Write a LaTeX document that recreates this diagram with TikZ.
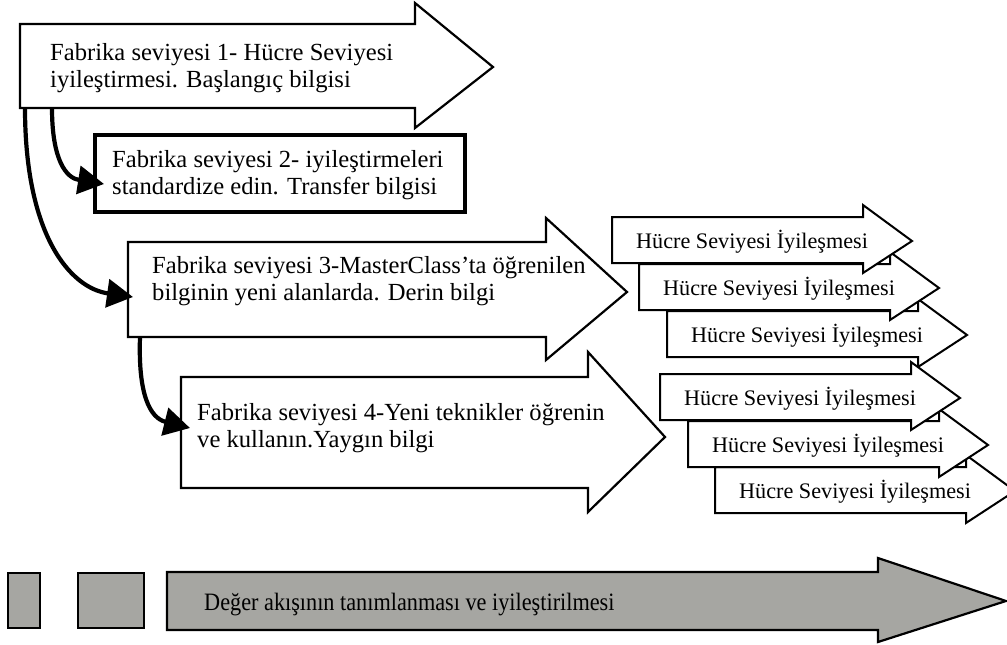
\documentclass[tikz,border=0pt]{standalone}
\usepackage{fontspec}
\usepackage{graphicx}
\setmainfont{Liberation Serif}
\usetikzlibrary{arrows.meta}
\definecolor{flowgray}{RGB}{166,166,162}
\tikzset{
  bigarrow/.style={draw=black, fill=white, line width=2.2pt, line join=miter},
  thickbox/.style={draw=black, fill=white, line width=4pt},
  smallarrow/.style={draw=black, fill=white, line width=2pt, line join=miter},
  grayshape/.style={draw=black, fill=flowgray, line width=2.2pt, line join=miter},
  leveltext/.style={anchor=west, inner sep=0pt, align=left, font=\fontsize{24.6}{27}\selectfont},
  celltext/.style={anchor=base west, inner sep=0pt, font=\fontsize{22.2}{24}\selectfont},
  flowtext/.style={anchor=base west, inner sep=0pt, font=\fontsize{25}{27}\selectfont},
  link/.style={line width=4.2pt, -{Triangle[length=26pt,width=28pt]}},
}
% one small "Hücre Seviyesi İyileşmesi" arrow; #1 name, #2,#3 top-left of its shaft
\newcommand\cellarrow[3]{%
  \draw[smallarrow] (#2,#3) -- ({#2+251},#3) -- ({#2+251},{#3-12}) -- ({#2+300},{#3+24})
    -- ({#2+251},{#3+56}) -- ({#2+251},{#3+46}) -- (#2,{#3+46}) -- cycle;
  \node[celltext] (#1) at ({#2+24},{#3+31}) {Hücre Seviyesi İyileşmesi};
}
\begin{document}
\begin{tikzpicture}[x=1pt,y=-1pt]
\useasboundingbox (0,0) rectangle (1007,645);
\clip (0,0) rectangle (1007,645);
\fill[white] (0,0) rectangle (1007,645);

% level 1
\draw[bigarrow] (20,24) -- (415,24) -- (415,3) -- (493,67) -- (415,128) -- (415,108) -- (20,108) -- cycle;
\node[leveltext] (l1) at (50,68) {Fabrika seviyesi 1- Hücre Seviyesi\\iyileştirmesi. Başlangıç bilgisi};
\coordinate (l1a) at (52,108);
\coordinate (l1b) at (25,108);

% level 2
\draw[thickbox] (95,135) rectangle (465,212);
\node[leveltext] (l2) at (112,175) {Fabrika seviyesi 2- iyileştirmeleri\\standardize edin. Transfer bilgisi};
\coordinate (l2in) at (104,184);

% level 3
\draw[bigarrow] (128,242) -- (546,242) -- (546,218) -- (627,292) -- (546,360) -- (546,337) -- (128,337) -- cycle;
\node[leveltext] (l3) at (152,281) {Fabrika seviyesi 3-MasterClass’ta öğrenilen\\bilginin yeni alanlarda. Derin bilgi};
\coordinate (l3in) at (133,297);
\coordinate (l3out) at (140,337);

% level 4
\draw[bigarrow] (181,377) -- (588,377) -- (588,352) -- (665,437) -- (588,512) -- (588,488) -- (181,488) -- cycle;
\node[leveltext] (l4) at (197,428) {Fabrika seviyesi 4-Yeni teknikler öğrenin\\ve kullanın.Yaygın bilgi};
\coordinate (l4in) at (190,428);

% links between levels
\draw[link] (l1a) .. controls (52,160) and (66,178) .. (l2in);
\draw[link] (l1b) .. controls (25,235) and (70,288) .. (l3in);
\draw[link] (l3out) .. controls (138,395) and (150,418) .. (l4in);

% cell-level improvements
\cellarrow{a3}{667}{311}
\cellarrow{a2}{639}{264}
\cellarrow{a1}{612}{217}
\cellarrow{b3}{715}{467}
\cellarrow{b2}{688}{421}
\cellarrow{b1}{660}{374}

% value stream
\draw[grayshape] (8,573) rectangle (40,628);
\draw[grayshape] (78,573) rectangle (144,628);
\draw[grayshape] (167,572) -- (878,572) -- (878,558) -- (1006,601) -- (878,642) -- (878,630) -- (167,630) -- cycle;
\node[flowtext] (vs) at (204,610) {\scalebox{0.89}[1]{Değer akışının tanımlanması ve iyileştirilmesi}};
\end{tikzpicture}
\end{document}
